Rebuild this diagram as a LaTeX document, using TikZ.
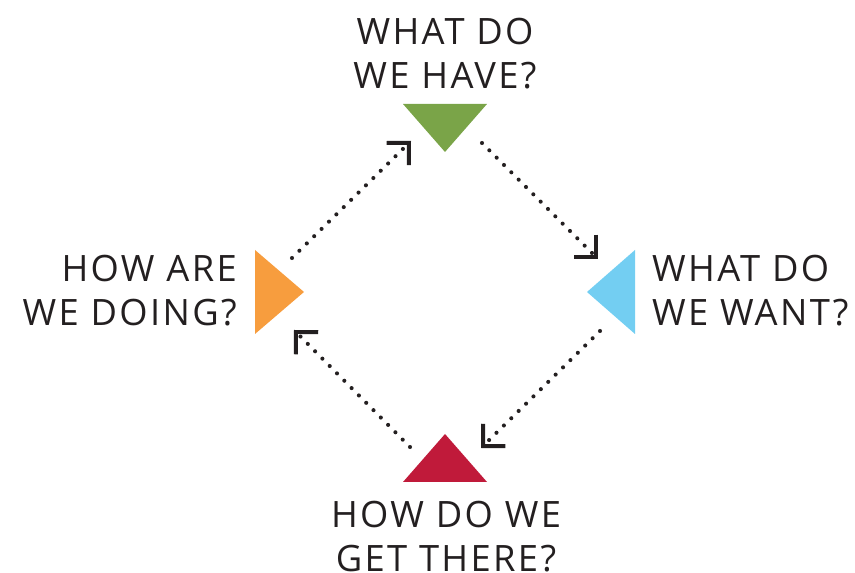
\documentclass[tikz,border=0pt]{standalone}
\usepackage{fontspec}
\setmainfont{Open Sans}[LetterSpace=6.5]
\usetikzlibrary{arrows.meta}
\definecolor{ink}{RGB}{35,31,32}
\definecolor{havegreen}{RGB}{122,164,72}
\definecolor{wantblue}{RGB}{115,206,242}
\definecolor{therered}{RGB}{192,26,58}
\definecolor{doingorange}{RGB}{247,157,62}

\begin{document}
\begin{tikzpicture}[x=0.03cm,y=-0.03cm,
    question/.style={inner sep=0pt, text=ink, font=\fontsize{31}{37.4}\selectfont},
    loop/.style={ink, line width=3.5pt, line cap=round, dash pattern=on 0pt off 8.85pt,
      -{Straight Barb[angle=90:19pt, line width=3.4pt, sharp]}}]
          \useasboundingbox (0,0) rectangle (855,573);

          \fill[havegreen] (403,104) -- (487,104) -- (445,152) -- cycle;
          \fill[wantblue] (635,250) -- (635,334) -- (587,292) -- cycle;
          \fill[therered] (403,482) -- (487,482) -- (445,434) -- cycle;
          \fill[doingorange] (255,250) -- (255,334) -- (304,292) -- cycle;

          \node[question, anchor=north, align=center] (have) at (445,18) {WHAT DO\\WE HAVE?};
          \node[question, anchor=north west, align=left] (want) at (652,255) {WHAT DO\\WE WANT?};
          \node[question, anchor=north, align=center] (there) at (446,501) {HOW DO WE\\GET THERE?};
          \node[question, anchor=north east, align=right] (doing) at (237,255) {HOW ARE\\WE DOING?};

          \coordinate (doing-out) at (292,258);
          \coordinate (have-in) at (411,141);
          \coordinate (have-out) at (482,143);
          \coordinate (want-in) at (598,259);
          \coordinate (want-out) at (600,331);
          \coordinate (there-in) at (481,448);
          \coordinate (there-out) at (410,447);
          \coordinate (doing-in) at (294,330);

          \draw[loop] (doing-out) -- (have-in);
          \draw[loop] (have-out) -- (want-in);
          \draw[loop] (want-out) -- (there-in);
          \draw[loop] (there-out) -- (doing-in);
        \end{tikzpicture}
\end{document}
